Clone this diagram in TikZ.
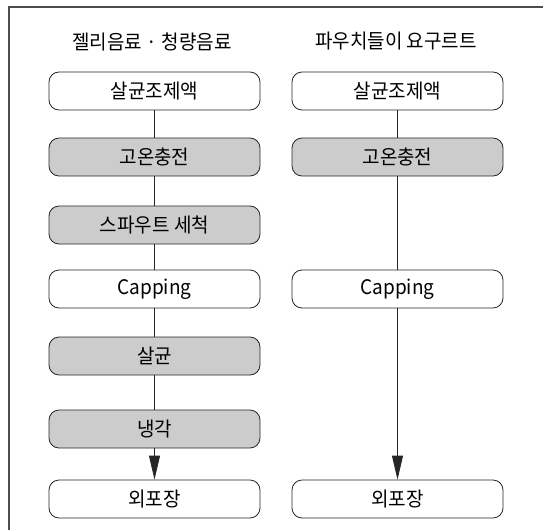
\documentclass[tikz,border=0pt]{standalone}
\usepackage{fontspec}
\setmainfont{Noto Sans CJK KR}[FakeStretch=0.95]
\usetikzlibrary{arrows.meta}
\begin{document}
\begin{tikzpicture}[x=1pt,y=-1pt,
  stepbox/.style={draw=black!85,line width=0.8pt,rounded corners=10pt,minimum width=211pt,minimum height=38pt,inner sep=0pt,font=\fontsize{20}{22}\selectfont},
  graybox/.style={stepbox,fill=black!20},
  wbox/.style={stepbox,fill=white},
  conn/.style={draw=black!85,line width=0.8pt},
  arr/.style={conn,-{Triangle[length=24pt,width=11pt]}},
  ttl/.style={font=\fontsize{20}{22}\selectfont}]
\useasboundingbox (0,0) rectangle (543,530);
\draw[black!70,line width=1.3pt] (9,530) -- (9,7) -- (543,7);
\node[ttl] (t1) at (152,42) {젤리음료 · 청량음료};
\node[ttl] (t2) at (396,41) {파우치들이 요구르트};
% left column
\node[wbox] (a1) at (154.5,91) {살균조제액};
\node[graybox] (a2) at (154.5,157) {고온충전};
\node[graybox] (a3) at (154.5,225) {스파우트 세척};
\node[wbox] (a4) at (154.5,289) {Capping};
\node[graybox] (a5) at (154.5,356) {살균};
\node[graybox] (a6) at (154.5,429) {냉각};
\node[wbox] (a7) at (154.5,499) {외포장};
% right column
\node[wbox] (b1) at (397.5,91) {살균조제액};
\node[graybox] (b2) at (397.5,157) {고온충전};
\node[wbox] (b4) at (397.5,289) {Capping};
\node[wbox] (b7) at (397.5,499) {외포장};
\draw[conn] (a1) -- (a2);
\draw[conn] (a2) -- (a3);
\draw[conn] (a3) -- (a4);
\draw[conn] (a4) -- (a5);
\draw[conn] (a5) -- (a6);
\draw[arr] (a6) -- (a7);
\draw[conn] (b1) -- (b2);
\draw[conn] (b2) -- (b4);
\draw[arr] (b4) -- (b7);
\end{tikzpicture}
\end{document}
